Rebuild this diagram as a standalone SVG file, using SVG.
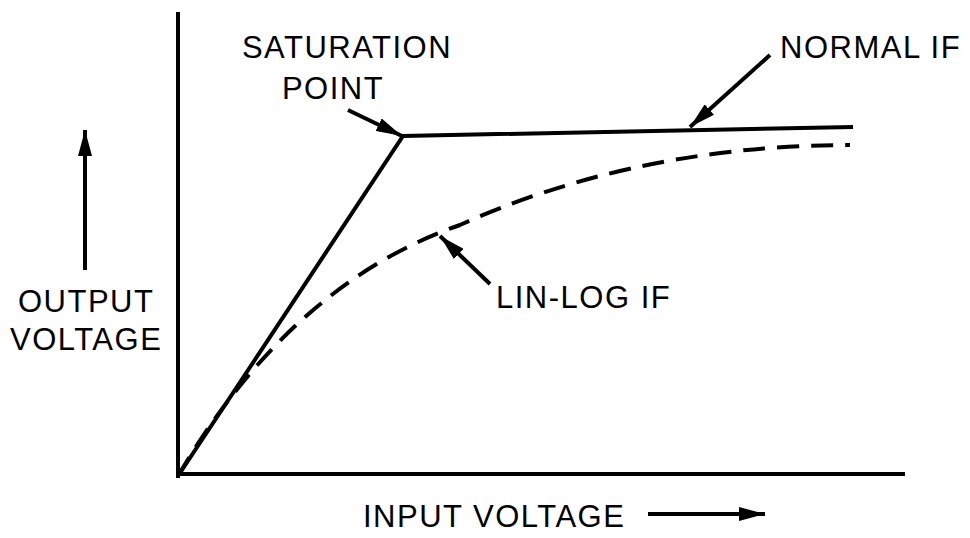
<svg xmlns="http://www.w3.org/2000/svg" width="970" height="538" viewBox="0 0 970 538">
<style>
text{font-family:"Liberation Sans",Arial,sans-serif;font-size:31px;letter-spacing:1.5px;fill:#000}
.l{stroke:#000;fill:none;stroke-width:4}
</style>
<defs><marker id="b" markerWidth="26" markerHeight="14" refX="26" refY="7" orient="auto" markerUnits="userSpaceOnUse"><path d="M0,0L26,7L0,14z"/></marker></defs>
<rect width="970" height="538" fill="#fff"/>
<g id="axes"><path class="l" d="M178,12V478M176,474H905"/></g>
<g id="curves">
<path class="l" d="M178,476L403,136L853,127"/>
<path class="l" stroke-dasharray="22,12" stroke-width="3" d="M178,476C240,370 330,270 460,225C560,180 690,145 850,145"/>
</g>
<g id="connectors">
<path class="l" marker-end="url(#b)" d="M348,110L402,136"/>
<path class="l" marker-end="url(#b)" d="M770,55L690,127"/>
<path class="l" marker-end="url(#b)" d="M490,284L440,236"/>
<path class="l" marker-end="url(#b)" d="M85,270V130"/>
<path class="l" marker-end="url(#b)" d="M648,514H765"/>
</g>
<g id="labels">
<text x="347" y="58" text-anchor="middle">SATURATION</text>
<text x="333" y="99" text-anchor="middle">POINT</text>
<text x="780" y="58">NORMAL IF</text>
<text x="496" y="308">LIN-LOG IF</text>
<text x="18" y="312">OUTPUT</text>
<text x="10" y="350">VOLTAGE</text>
<text x="363" y="527">INPUT VOLTAGE</text>
</g>
</svg>
